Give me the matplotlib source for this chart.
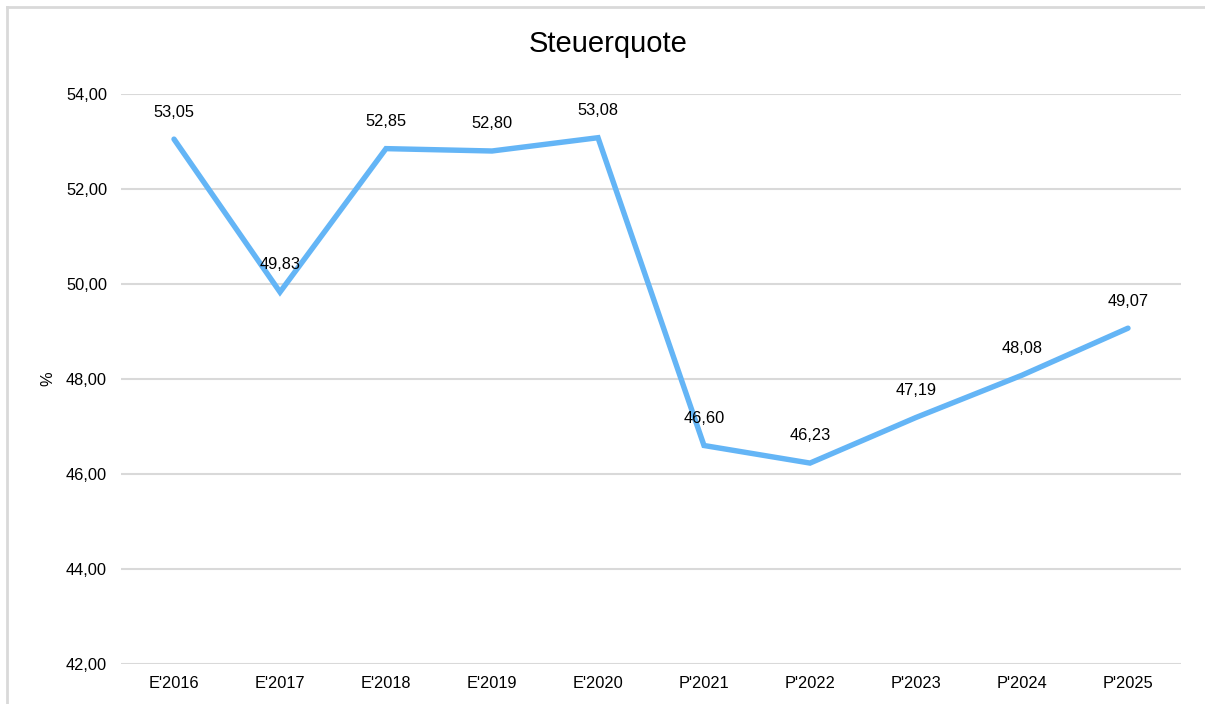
import matplotlib.pyplot as plt
from matplotlib.lines import Line2D

# Chart data
years = ["E'2016", "E'2017", "E'2018", "E'2019", "E'2020",
         "P'2021", "P'2022", "P'2023", "P'2024", "P'2025"]
quote = [53.05, 49.83, 52.85, 52.80, 53.08, 46.60, 46.23, 47.19, 48.08, 49.07]
y_ticks = [42, 44, 46, 48, 50, 52, 54]

W, H = 1205, 704
plt.rcParams["font.family"] = ["Liberation Sans", "DejaVu Sans"]
FS = 11.8

fig = plt.figure(figsize=(W / 100, H / 100), dpi=100)
ax = fig.add_axes([121 / W, 1 - 664 / H, (1181 - 121) / W, (664 - 94) / H])

x = list(range(len(years)))
ax.plot(x, quote, color="#64B5F6", lw=3.9, solid_joinstyle="miter",
        solid_capstyle="round", zorder=3)

# data labels above each point
for xi, v in zip(x, quote):
    ax.annotate(f"{v:.2f}".replace(".", ","), (xi, v), xytext=(0, 19.5),
                textcoords="offset points", ha="center", va="center",
                fontsize=FS, color="#000000")

ax.set_xlim(-0.5, len(years) - 0.5)
ax.set_ylim(42, 54)
ax.set_yticks(y_ticks)
ax.set_yticklabels([f"{t:.2f}".replace(".", ",") for t in y_ticks])
ax.set_xticks(x)
ax.set_xticklabels(years)
ax.tick_params(axis="both", length=0, labelsize=FS, colors="#000000")
ax.tick_params(axis="y", pad=10)
ax.tick_params(axis="x", pad=9)
ax.grid(axis="y", color="#d9d9d9", lw=1.5)
ax.set_axisbelow(True)
for s in ax.spines.values():
    s.set_visible(False)

fig.text(48 / W, 1 - 379 / H, "%", rotation=90, ha="center", va="center",
         fontsize=FS)
fig.text(608 / W, 1 - 44 / H, "Steuerquote", ha="center", va="center",
         fontsize=21)

# outer chart border (only top and left edges visible in the frame)
fig.add_artist(Line2D([7 / W, 7 / W], [0, 1 - 7 / H], color="#d9d9d9",
                      lw=2, transform=fig.transFigure))
fig.add_artist(Line2D([7 / W, 1], [1 - 7 / H, 1 - 7 / H], color="#d9d9d9",
                      lw=2, transform=fig.transFigure))

fig.savefig("out.png", dpi=100)
